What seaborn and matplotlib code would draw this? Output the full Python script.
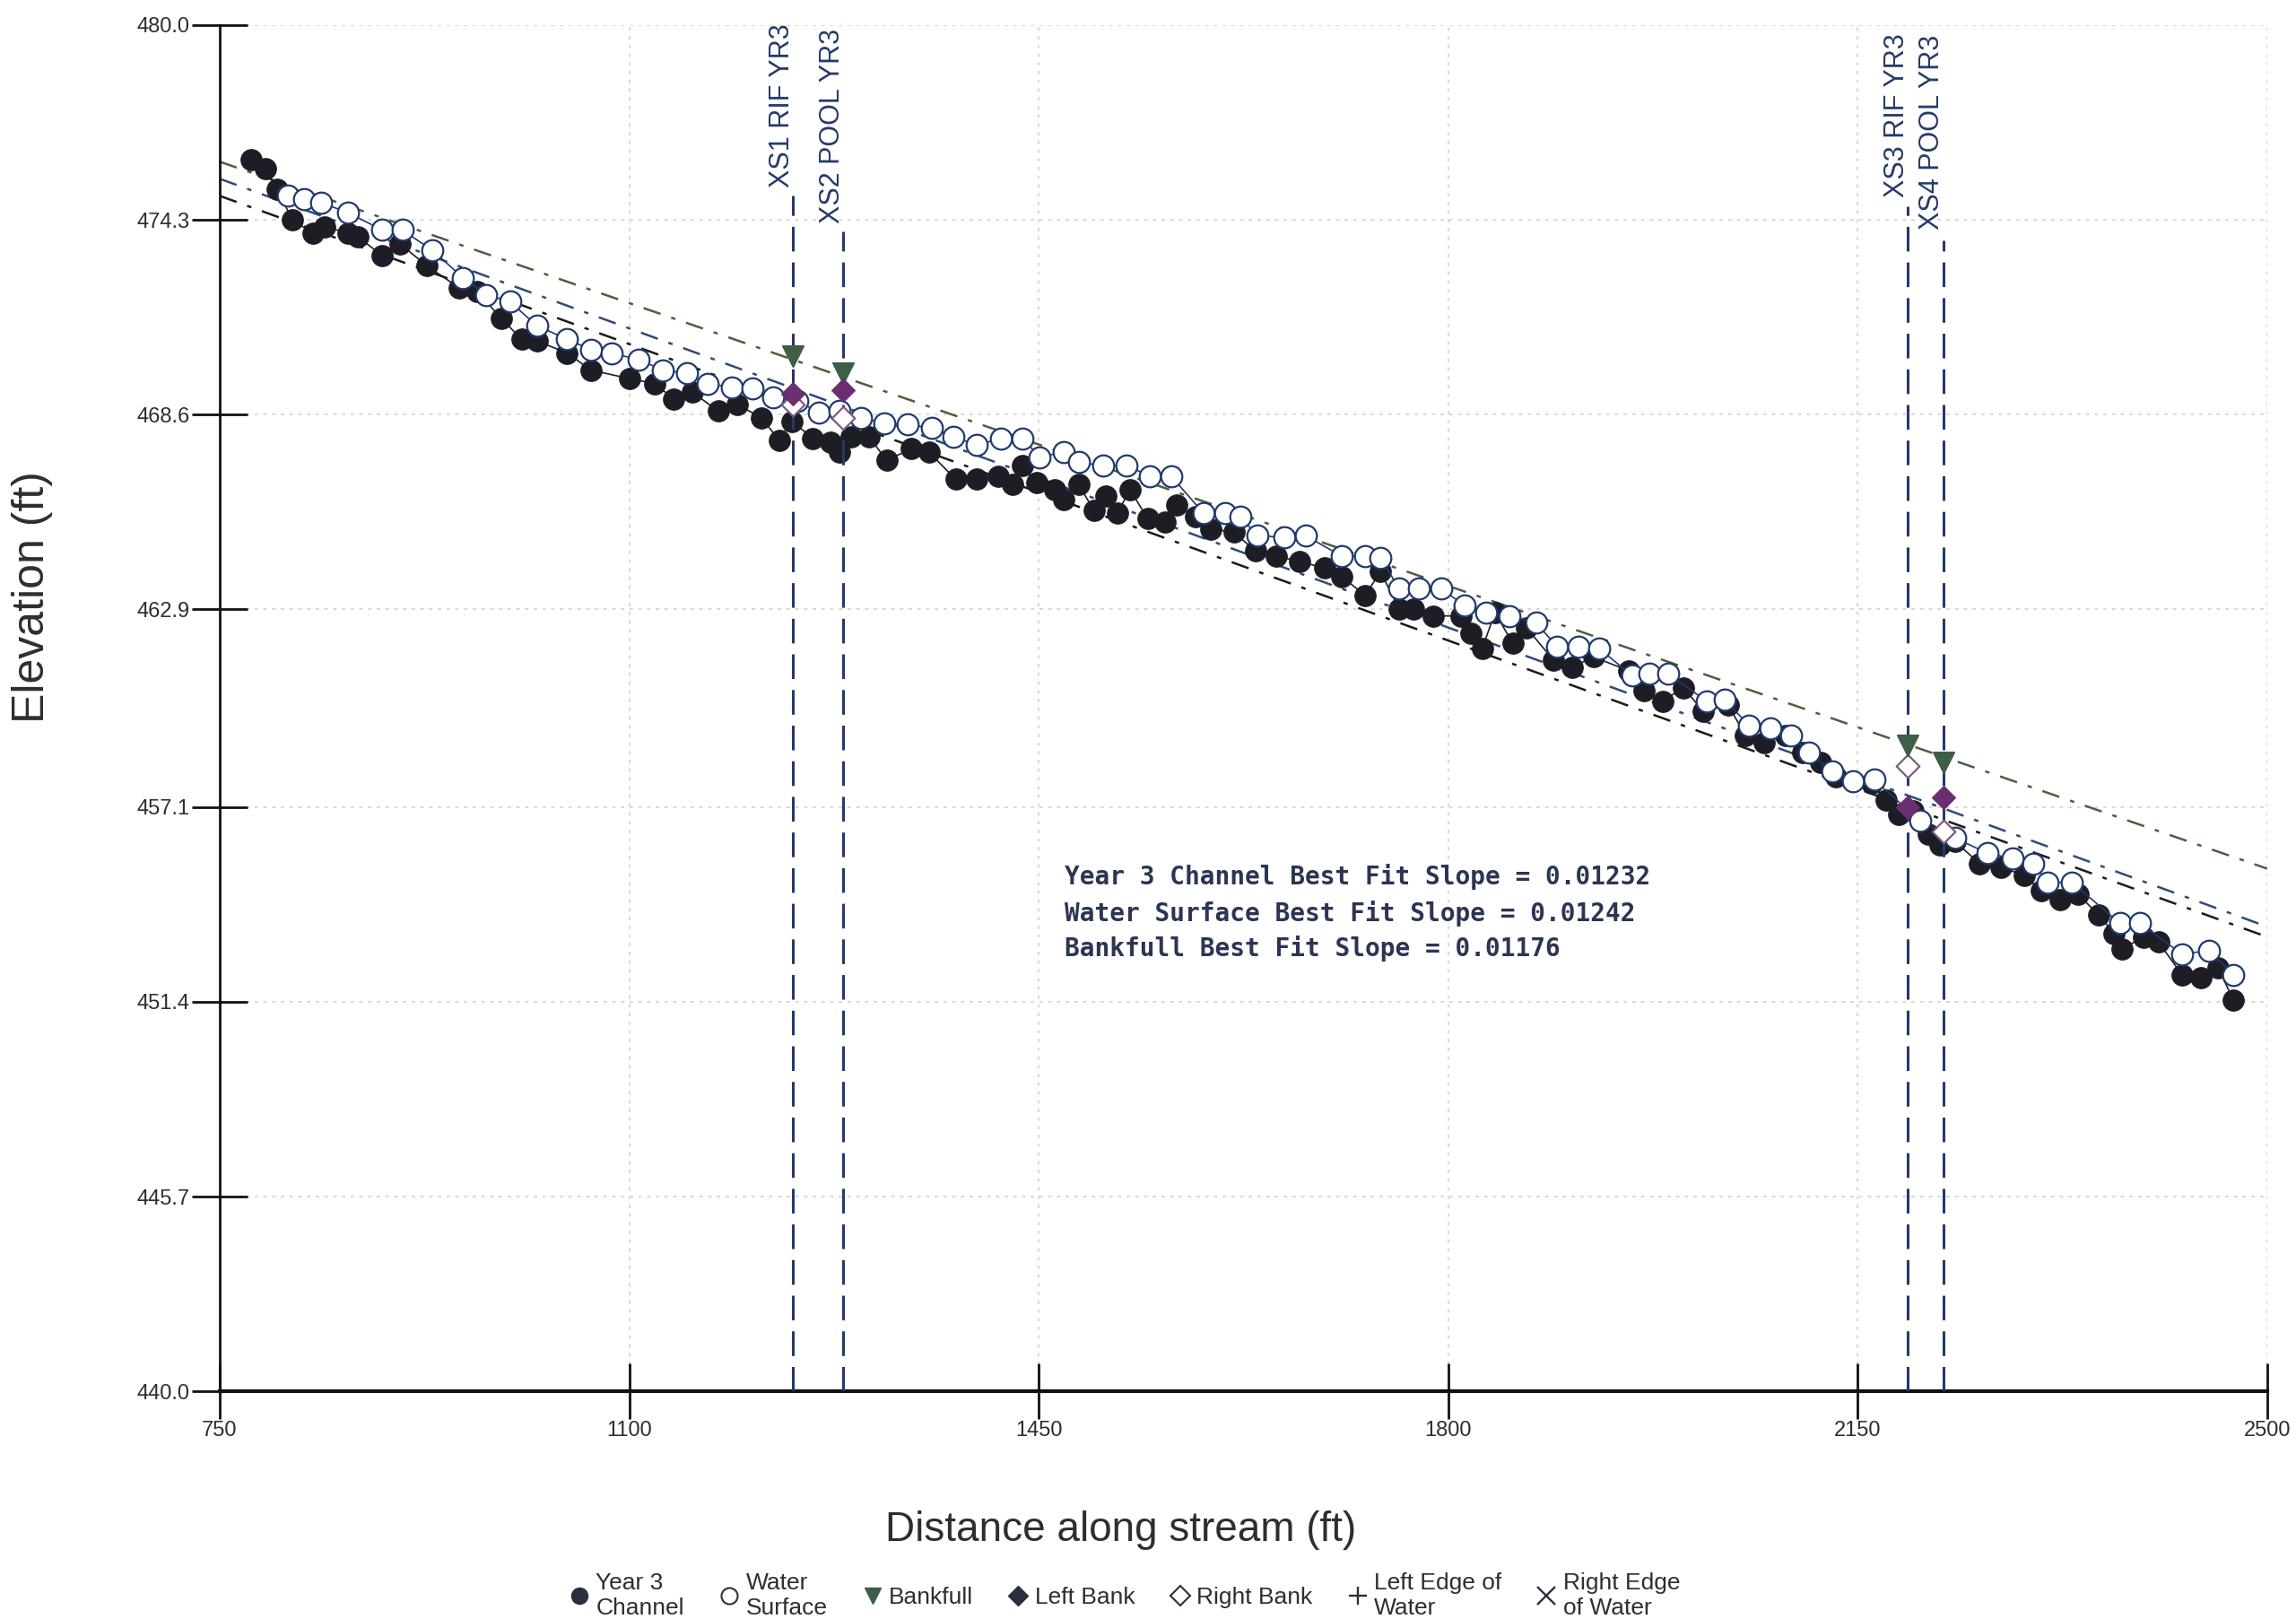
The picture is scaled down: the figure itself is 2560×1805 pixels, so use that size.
import matplotlib
matplotlib.use("Agg")
import matplotlib.pyplot as plt
import matplotlib.font_manager as fm
from matplotlib.lines import Line2D
import seaborn as sns

# profile survey, year 3 (ft)
ch_dist = [777, 789, 799, 812, 830, 840, 860, 868, 889, 904, 927, 955, 970, 991, 1008, 1021,
           1047, 1067, 1100, 1122, 1138, 1154, 1176, 1192, 1213, 1228, 1239, 1257, 1272, 1280,
           1290, 1305, 1320, 1341, 1356, 1379, 1397, 1415, 1428, 1436, 1448, 1464, 1471, 1484,
           1497, 1507, 1517, 1528, 1543, 1558, 1568, 1584, 1597, 1617, 1635, 1653, 1673, 1694,
           1709, 1729, 1742, 1758, 1770, 1787, 1811, 1819, 1829, 1840, 1855, 1867, 1890, 1906,
           1924, 1954, 1967, 1983, 2001, 2018, 2039, 2054, 2070, 2088, 2103, 2118, 2131, 2162,
           2174, 2185, 2197, 2210, 2220, 2233, 2254, 2272, 2292, 2307, 2323, 2338, 2356, 2369,
           2376, 2394, 2407, 2427, 2443, 2458, 2471]
ch_elev = [476.05, 475.8, 475.2, 474.3, 473.9, 474.1, 473.9, 473.8, 473.25, 473.6, 472.95, 472.3,
           472.2, 471.4, 470.8, 470.75, 470.4, 469.9, 469.65, 469.5, 469.05, 469.25, 468.7, 468.9,
           468.5, 467.85, 468.4, 467.9, 467.8, 467.5, 467.95, 467.95, 467.25, 467.6, 467.5, 466.7,
           466.7, 466.8, 466.55, 467.1, 466.6, 466.4, 466.1, 466.55, 465.8, 466.2, 465.7, 466.4,
           465.55, 465.45, 465.95, 465.6, 465.25, 465.15, 464.6, 464.45, 464.3, 464.1, 463.85,
           463.3, 464.0, 462.9, 462.9, 462.7, 462.7, 462.2, 461.75, 462.8, 461.9, 462.35, 461.4,
           461.2, 461.5, 461.1, 460.5, 460.2, 460.6, 459.9, 460.1, 459.2, 459.0, 459.2, 458.7,
           458.4, 458.0, 457.8, 457.3, 456.9, 457.0, 456.3, 456.0, 456.1, 455.45, 455.35, 455.1,
           454.65, 454.4, 454.55, 453.95, 453.4, 452.95, 453.3, 453.15, 452.2, 452.1, 452.4, 451.45]

ws_dist = [808, 822, 837, 860, 889, 906, 932, 958, 978, 998, 1021, 1047, 1067, 1085, 1108, 1129,
           1149, 1167, 1188, 1205, 1223, 1244, 1262, 1280, 1298, 1318, 1338, 1359, 1377, 1397,
           1418, 1436, 1451, 1471, 1484, 1505, 1525, 1545, 1563, 1591, 1609, 1622, 1637, 1660,
           1678, 1709, 1729, 1742, 1758, 1775, 1794, 1814, 1832, 1852, 1875, 1893, 1911, 1929,
           1957, 1972, 1988, 2021, 2036, 2057, 2075, 2093, 2108, 2128, 2146, 2164, 2203, 2233,
           2261, 2282, 2300, 2312, 2333, 2374, 2391, 2427, 2450, 2471]
ws_elev = [475.0, 474.9, 474.8, 474.5, 474.0, 474.0, 473.4, 472.6, 472.1, 471.9, 471.2, 470.8,
           470.5, 470.4, 470.2, 469.9, 469.8, 469.5, 469.4, 469.35, 469.1, 469.0, 468.65, 468.7,
           468.5, 468.35, 468.3, 468.2, 467.95, 467.7, 467.9, 467.9, 467.35, 467.5, 467.2, 467.1,
           467.1, 466.8, 466.8, 465.7, 465.7, 465.6, 465.05, 465.0, 465.05, 464.45, 464.45, 464.4,
           463.5, 463.5, 463.5, 463.0, 462.8, 462.7, 462.5, 461.8, 461.8, 461.75, 460.95, 461.0,
           461.0, 460.2, 460.25, 459.5, 459.4, 459.2, 458.7, 458.15, 457.85, 457.9, 456.7, 456.2,
           455.75, 455.6, 455.45, 454.9, 454.9, 453.7, 453.7, 452.8, 452.9, 452.2]

# cross sections
xs_names = ["XS1 RIF YR3", "XS2 POOL YR3", "XS3 RIF YR3", "XS4 POOL YR3"]
xs_dist = [1240, 1283, 2193, 2223]
xs_line_top = [475.0, 473.95, 474.7, 473.7]
xs_label_base = [475.25, 474.2, 474.95, 474.0]
bankfull_elev = [470.3, 469.8, 458.9, 458.4]
left_bank_elev = [469.2, 469.3, 457.1, 457.4]
right_bank_elev = [468.9, 468.5, 458.3, 456.4]

# best fit lines
fit_x = [750, 2500]
fit_bankfull = [476.0, 455.3]
fit_water = [475.5, 453.6]
fit_channel = [475.0, 453.3]
slope_text = ["Year 3 Channel Best Fit Slope = 0.01232",
              "Water Surface Best Fit Slope = 0.01242",
              "Bankfull Best Fit Slope = 0.01176"]
slope_text_y = [455.05, 453.98, 452.95]

x_ticks = [750, 1100, 1450, 1800, 2150, 2500]
y_ticks = [440.0, 445.7, 451.4, 457.1, 462.9, 468.6, 474.3, 480.0]

sns.set_theme(style="white")
names = {f.name for f in fm.fontManager.ttflist}
narrow = "Liberation Sans Narrow" if "Liberation Sans Narrow" in names else "Liberation Sans"
plt.rcParams["font.family"] = [narrow, "DejaVu Sans"]

fig = plt.figure(figsize=(25.6, 18.05), dpi=100)
ax = fig.add_axes([0.0957, 0.1407, 0.8918, 0.8438])

grey = "#2e2e2e"
navy = "#25396a"

# grid
for t in x_ticks[1:]:
    ax.axvline(t, color="#d9d9d9", ls=(0, (2, 3)), lw=1.4, zorder=0)
for t in y_ticks[1:]:
    ax.axhline(t, color="#d9d9d9", ls=(0, (2, 3)), lw=1.4, zorder=0)

# best fit lines
ax.plot(fit_x, fit_bankfull, color="#4d5e3f", lw=1.8, ls=(0, (8, 5, 2, 5)), zorder=2)
ax.plot(fit_x, fit_water, color="#2f4a7a", lw=1.8, ls=(0, (8, 5, 2, 5)), zorder=2)
ax.plot(fit_x, fit_channel, color="#1a1a1a", lw=1.8, ls=(0, (8, 5, 2, 5)), zorder=2)

# channel and water surface
sns.lineplot(x=ch_dist, y=ch_elev, ax=ax, color="#1d1d26", lw=1.2, marker="o",
             markersize=17, markeredgecolor="#1d1d26", estimator=None, sort=False, zorder=3)
sns.lineplot(x=ws_dist, y=ws_elev, ax=ax, color="#1f3a6e", lw=1.2, marker="o",
             markersize=17, markerfacecolor="white", markeredgecolor="#1f3a6e",
             markeredgewidth=1.6, estimator=None, sort=False, zorder=4)

# cross section lines and labels
ax.vlines(xs_dist, 440, xs_line_top, colors=navy, lw=2.2, linestyles=(0, (9, 4)), zorder=5)
for name, x, yb in zip(xs_names, xs_dist, xs_label_base):
    ax.text(x + 2, yb, name, rotation=90, ha="right", va="bottom", fontsize=22,
            color=navy, family="Liberation Sans", zorder=6)

sns.scatterplot(x=xs_dist, y=bankfull_elev, ax=ax, marker="v", s=280, color="#3e5e46",
                edgecolor="#3e5e46", zorder=7, legend=False)
sns.scatterplot(x=xs_dist, y=left_bank_elev, ax=ax, marker="D", s=170, color="#6b2e6e",
                edgecolor="#6b2e6e", zorder=7, legend=False)
sns.scatterplot(x=xs_dist, y=right_bank_elev, ax=ax, marker="D", s=170, facecolor="white",
                edgecolor="#7b5c7e", linewidth=1.6, zorder=6, legend=False)

for txt, y in zip(slope_text, slope_text_y):
    ax.text(1472, y, txt, ha="left", va="center", fontsize=20, fontweight="bold",
            family="DejaVu Sans Mono", color="#2b3553")

# axes
ax.set_xlim(750, 2500)
ax.set_ylim(440, 480)
ax.set_xticks(x_ticks)
ax.set_yticks(y_ticks)
ax.set_xticklabels([str(t) for t in x_ticks])
ax.set_yticklabels([f"{t:.1f}" for t in y_ticks])
for s in ["top", "right"]:
    ax.spines[s].set_visible(False)
ax.spines["left"].set_color("#111111")
ax.spines["left"].set_linewidth(2)
ax.spines["bottom"].set_color("#111111")
ax.spines["bottom"].set_linewidth(3)
ax.tick_params(axis="both", which="major", bottom=True, left=True, direction="inout",
               length=44, width=2, color="#111111", labelsize=17, labelcolor=grey, pad=2)
ax.set_xlabel("")
ax.set_ylabel("")

fig.text(0.014, 0.631, "Elevation (ft)", rotation=90, ha="center", va="center",
         fontsize=36, color=grey)
fig.text(0.488, 0.055, "Distance along stream (ft)", ha="center", va="center",
         fontsize=33, color=grey)

# legend
handles = [
    Line2D([], [], ls="", marker="o", markersize=13, color="#2a2f3d"),
    Line2D([], [], ls="", marker="o", markersize=13, markerfacecolor="white",
           markeredgecolor="#2a2f3d", markeredgewidth=1.5),
    Line2D([], [], ls="", marker="v", markersize=13, color="#3e5e46"),
    Line2D([], [], ls="", marker="D", markersize=11, color="#2a2f3d"),
    Line2D([], [], ls="", marker="D", markersize=11, markerfacecolor="white",
           markeredgecolor="#2a2f3d", markeredgewidth=1.5),
    Line2D([], [], ls="", marker="+", markersize=15, color="#2a2f3d", markeredgewidth=1.7),
    Line2D([], [], ls="", marker="x", markersize=14, color="#2a2f3d", markeredgewidth=1.7),
]
labels = ["Year 3\nChannel", "Water\nSurface", "Bankfull", "Left Bank", "Right Bank",
          "Left Edge of\nWater", "Right Edge\nof Water"]
fig.legend(handles, labels, loc="upper center", bbox_to_anchor=(0.49, 0.042), ncol=7,
           frameon=False, fontsize=19, handlelength=0.8, handletextpad=0.3,
           columnspacing=1.5, labelcolor=grey)

fig.savefig("out.png", dpi=100, facecolor="white")
